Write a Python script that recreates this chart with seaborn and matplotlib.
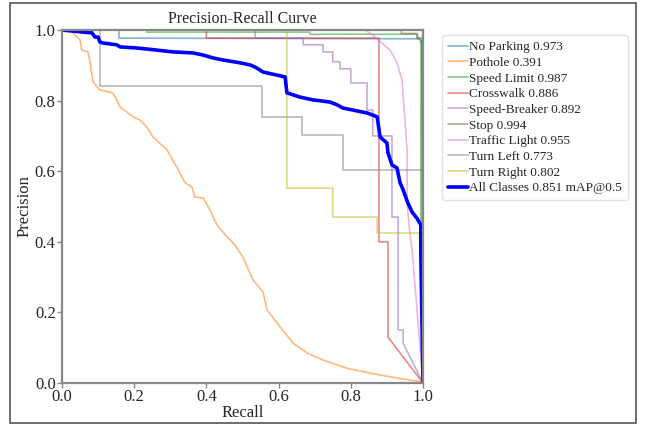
import matplotlib
matplotlib.use("Agg")
import matplotlib.pyplot as plt
import seaborn as sns
import pandas as pd
from matplotlib.patches import Rectangle

# ---------------- data ----------------
no_parking_r = [0.0, 0.158, 0.158, 0.99, 0.997, 1.0]
no_parking_p = [1.0, 1.0, 0.977, 0.975, 0.96, 0.0]

pothole_r = [0.0, 0.028, 0.030, 0.050, 0.055, 0.072, 0.078, 0.086, 0.105, 0.141, 0.161,
             0.197, 0.216, 0.235, 0.252, 0.291, 0.319, 0.341, 0.360, 0.368, 0.391, 0.410,
             0.429, 0.457, 0.479, 0.501, 0.529, 0.557, 0.568, 0.604, 0.640, 0.679, 0.723,
             0.789, 0.853, 0.928, 0.997, 1.0]
pothole_p = [1.0, 1.0, 0.992, 0.972, 0.943, 0.938, 0.907, 0.853, 0.830, 0.822, 0.782,
             0.754, 0.745, 0.725, 0.697, 0.660, 0.609, 0.567, 0.555, 0.527, 0.524, 0.490,
             0.448, 0.414, 0.391, 0.357, 0.292, 0.258, 0.207, 0.159, 0.113, 0.085, 0.065,
             0.042, 0.028, 0.014, 0.003, 0.0]

speed_limit_r = [0.0, 0.235, 0.235, 0.687, 0.687, 0.985, 0.985, 0.994, 0.994, 1.0]
speed_limit_p = [1.0, 1.0, 0.994, 0.994, 0.988, 0.988, 0.975, 0.975, 0.44, 0.0]

crosswalk_r = [0.0, 0.40, 0.40, 0.878, 0.878, 0.903, 0.903, 1.0]
crosswalk_p = [1.0, 1.0, 0.977, 0.977, 0.40, 0.40, 0.13, 0.0]

speed_breaker_r = [0.0, 0.535, 0.535, 0.668, 0.668, 0.723, 0.723, 0.75, 0.75, 0.77, 0.77,
                   0.80, 0.80, 0.845, 0.845, 0.861, 0.861, 0.914, 0.914, 0.931, 0.931,
                   0.945, 0.945, 1.0]
speed_breaker_p = [1.0, 1.0, 0.977, 0.977, 0.958, 0.958, 0.938, 0.938, 0.91, 0.91, 0.89,
                   0.89, 0.85, 0.85, 0.773, 0.773, 0.70, 0.70, 0.47, 0.47, 0.15,
                   0.15, 0.113, 0.0]

stop_r = [0.0, 0.94, 0.94, 0.983, 0.983, 0.997, 0.997, 1.0]
stop_p = [1.0, 1.0, 0.99, 0.99, 0.978, 0.978, 0.955, 0.0]

traffic_light_r = [0.0, 0.839, 0.861, 0.909, 0.928, 0.942, 0.950, 0.956, 0.956, 0.964, 0.970, 1.0]
traffic_light_p = [1.0, 1.0, 0.986, 0.943, 0.907, 0.858, 0.745, 0.66, 0.51, 0.42, 0.375, 0.0]

turn_left_r = [0.0, 0.105, 0.105, 0.554, 0.554, 0.665, 0.665, 0.778, 0.778, 1.0, 1.0]
turn_left_p = [1.0, 1.0, 0.84, 0.84, 0.754, 0.754, 0.703, 0.703, 0.603, 0.603, 0.0]

turn_right_r = [0.0, 0.623, 0.623, 0.75, 0.75, 0.873, 0.873, 0.99, 1.0]
turn_right_p = [1.0, 1.0, 0.552, 0.552, 0.470, 0.470, 0.425, 0.425, 0.0]

all_r = [0.0, 0.058, 0.083, 0.091, 0.100, 0.105, 0.114, 0.152, 0.161, 0.208, 0.263, 0.307,
         0.363, 0.391, 0.418, 0.446, 0.493, 0.521, 0.535, 0.557, 0.618, 0.623, 0.659,
         0.695, 0.742, 0.762, 0.778, 0.845, 0.873, 0.881, 0.900, 0.903, 0.914, 0.928,
         0.936, 0.945, 0.958, 0.970, 0.983, 0.994, 0.994, 1.0]
all_p = [1.0, 0.994, 0.992, 0.980, 0.980, 0.966, 0.963, 0.958, 0.952, 0.949, 0.943, 0.938,
         0.935, 0.929, 0.921, 0.915, 0.907, 0.901, 0.895, 0.881, 0.867, 0.822, 0.810,
         0.802, 0.796, 0.788, 0.779, 0.765, 0.754, 0.697, 0.680, 0.652, 0.618, 0.609,
         0.569, 0.547, 0.510, 0.484, 0.467, 0.448, 0.368, 0.0]

labels = ["No Parking 0.973", "Pothole 0.391", "Speed Limit 0.987", "Crosswalk 0.886",
          "Speed-Breaker 0.892", "Stop 0.994", "Traffic Light 0.955", "Turn Left 0.773",
          "Turn Right 0.802"]
all_label = "All Classes 0.851 mAP@0.5"

x_ticks = [0.0, 0.2, 0.4, 0.6, 0.8, 1.0]
y_ticks = [0.0, 0.2, 0.4, 0.6, 0.8, 1.0]

# ---------------- plotting ----------------
sns.set_style("white")
plt.rcParams["font.family"] = ["Liberation Serif", "DejaVu Serif"]

fig = plt.figure(figsize=(6.47, 4.25), dpi=100)
ax = fig.add_axes([62 / 647, 42 / 425, 361 / 647, 353 / 425])

curves = [(no_parking_r, no_parking_p), (pothole_r, pothole_p),
          (speed_limit_r, speed_limit_p), (crosswalk_r, crosswalk_p),
          (speed_breaker_r, speed_breaker_p), (stop_r, stop_p),
          (traffic_light_r, traffic_light_p), (turn_left_r, turn_left_p),
          (turn_right_r, turn_right_p)]
palette = sns.color_palette("tab10", 9)

for (r, p), lab, col in zip(curves, labels, palette):
    df = pd.DataFrame({"Recall": r, "Precision": p})
    sns.lineplot(data=df, x="Recall", y="Precision", sort=False, estimator=None,
                 ax=ax, color=col, alpha=0.55, linewidth=1.2, label=lab)

df_all = pd.DataFrame({"Recall": all_r, "Precision": all_p})
sns.lineplot(data=df_all, x="Recall", y="Precision", sort=False, estimator=None,
             ax=ax, color="blue", linewidth=2.6, label=all_label)

ax.set_xlim(0, 1)
ax.set_ylim(0, 1)
ax.set_xticks(x_ticks)
ax.set_yticks(y_ticks)
ax.set_xticklabels([f"{t:.1f}" for t in x_ticks])
ax.set_yticklabels([f"{t:.1f}" for t in y_ticks])
ax.tick_params(axis="both", labelsize=12, length=3.5, width=1, color="#888888",
               direction="out", pad=1, bottom=True, left=True)
for s in ax.spines.values():
    s.set_color("#888888")
    s.set_linewidth(1.6)
ax.set_xlabel("Recall", fontsize=12, labelpad=0)
ax.set_ylabel("Precision", fontsize=12, labelpad=2)
ax.set_title("Precision-Recall Curve", fontsize=11.5, pad=5)

leg = ax.legend(loc="upper left", bbox_to_anchor=(442 / 647, 1 - 35 / 425),
                bbox_transform=fig.transFigure, fontsize=9.5, frameon=True,
                handlelength=1.5, handletextpad=0.1, labelspacing=0.26,
                borderpad=0.45, borderaxespad=0.0, fancybox=True)
leg.get_frame().set_edgecolor("#dddddd")
leg.get_frame().set_linewidth(1.0)

fig.patches.append(Rectangle((10 / 647, 2 / 425), 626 / 647, 420 / 425,
                             transform=fig.transFigure, fill=False,
                             edgecolor="#555555", linewidth=1.2))

fig.savefig("out.png", dpi=100)
